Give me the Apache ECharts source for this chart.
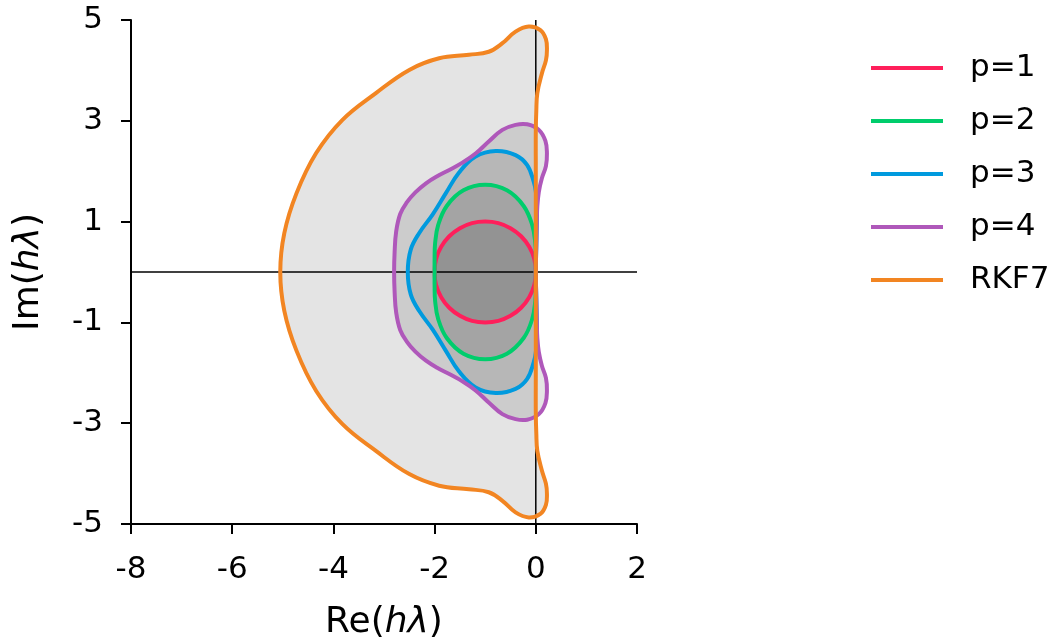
<!DOCTYPE html>
<html>
<head>
<meta charset="utf-8">
<script src="https://cdn.jsdelivr.net/npm/echarts@6/dist/echarts.min.js"></script>
<style>
  html, body { margin: 0; padding: 0; background: #fff; }
  #main { width: 1063px; height: 638px; }
</style>
</head>
<body>
<div id="main"></div>
<script>
// 稳定区域边界点 (Re, Im)
var xTicks = [-8, -6, -4, -2, 0, 2];
var yTicks = [-5, -3, -1, 1, 3, 5];
var names = ['p=1', 'p=2', 'p=3', 'p=4', 'RKF7'];
var colors = ['#FF1F5B', '#00CD6C', '#009ADE', '#AF58BA', '#F28522'];

var p1 = [
  [0, 0], [-0.03, 0.26], [-0.13, 0.5], [-0.29, 0.71], [-0.5, 0.87], [-0.74, 0.97], [-1, 1],
  [-1.26, 0.97], [-1.5, 0.87], [-1.71, 0.71], [-1.87, 0.5], [-1.97, 0.26], [-2, 0],
  [-1.97, -0.26], [-1.87, -0.5], [-1.71, -0.71], [-1.5, -0.87], [-1.26, -0.97], [-1, -1],
  [-0.74, -0.97], [-0.5, -0.87], [-0.29, -0.71], [-0.13, -0.5], [-0.03, -0.26]
];
var p2 = [
  [0, 0], [0, 0.27], [-0.01, 0.57], [-0.07, 0.93], [-0.24, 1.31], [-0.57, 1.62], [-1, 1.73],
  [-1.43, 1.62], [-1.76, 1.31], [-1.93, 0.93], [-1.99, 0.57], [-2, 0.27], [-2, 0],
  [-2, -0.27], [-1.99, -0.57], [-1.93, -0.93], [-1.76, -1.31], [-1.43, -1.62], [-1, -1.73],
  [-0.57, -1.62], [-0.24, -1.31], [-0.07, -0.93], [-0.01, -0.57], [0, -0.27]
];
var p3 = [
  [0, 0], [0.01, 0.5], [0.02, 1.0], [0.02, 1.35], [0, 1.6], [-0.04, 1.79], [-0.17, 2.12],
  [-0.4, 2.32], [-0.79, 2.4], [-1.19, 2.29], [-1.52, 1.97], [-1.78, 1.56], [-2.04, 1.14],
  [-2.3, 0.78], [-2.47, 0.45], [-2.53, 0],
  [-2.47, -0.45], [-2.3, -0.78], [-2.04, -1.14], [-1.78, -1.56], [-1.52, -1.97], [-1.19, -2.29],
  [-0.79, -2.4], [-0.4, -2.32], [-0.17, -2.12], [-0.04, -1.79], [0, -1.6], [0.02, -1.35],
  [0.02, -1.0], [0.01, -0.5]
];
var p4 = [
  [0, 0], [0.01, 0.5], [0.02, 1.0], [0.03, 1.3], [0.06, 1.59], [0.12, 1.86], [0.2, 2.1],
  [0.22, 2.35], [0.19, 2.6], [0.06, 2.82], [-0.17, 2.93], [-0.4, 2.92], [-0.66, 2.82],
  [-0.93, 2.59], [-1.19, 2.35], [-1.45, 2.17], [-1.7, 2.03], [-1.95, 1.9], [-2.17, 1.76],
  [-2.38, 1.58], [-2.55, 1.38], [-2.68, 1.15], [-2.76, 0.8], [-2.79, 0.4], [-2.8, 0],
  [-2.79, -0.4], [-2.76, -0.8], [-2.68, -1.15], [-2.55, -1.38], [-2.38, -1.58], [-2.17, -1.76],
  [-1.95, -1.9], [-1.7, -2.03], [-1.45, -2.17], [-1.19, -2.35], [-0.93, -2.59], [-0.66, -2.82],
  [-0.4, -2.92], [-0.17, -2.93], [0.06, -2.82], [0.19, -2.6], [0.22, -2.35], [0.2, -2.1],
  [0.12, -1.86], [0.06, -1.59], [0.03, -1.3], [0.02, -1.0], [0.01, -0.5]
];
var rkf7 = [
  [0, 0], [0, 1], [0, 2], [0, 2.8], [0.01, 3.2], [0.03, 3.55], [0.12, 3.94], [0.2, 4.2],
  [0.22, 4.4], [0.2, 4.62], [0.09, 4.8], [-0.14, 4.87], [-0.4, 4.77], [-0.66, 4.54],
  [-0.93, 4.37], [-1.32, 4.31], [-1.91, 4.24], [-2.5, 4.01], [-3.16, 3.55], [-3.82, 3.02],
  [-4.34, 2.36], [-4.73, 1.56], [-4.97, 0.77], [-5.05, 0],
  [-4.97, -0.77], [-4.73, -1.56], [-4.34, -2.36], [-3.82, -3.02], [-3.16, -3.55], [-2.5, -4.01],
  [-1.91, -4.24], [-1.32, -4.31], [-0.93, -4.37], [-0.66, -4.54], [-0.4, -4.77], [-0.14, -4.87],
  [0.09, -4.8], [0.2, -4.62], [0.22, -4.4], [0.2, -4.2], [0.12, -3.94], [0.03, -3.55],
  [0.01, -3.2], [0, -2.8], [0, -2], [0, -1]
];
var regions = [p1, p2, p3, p4, rkf7];

var font = 'DejaVu Sans';

// 闭合曲线：用 custom 系列画多边形
function polySeries(name, pts, style, z) {
  return {
    type: 'custom',
    name: name,
    z: z,
    silent: true,
    itemStyle: { color: style.stroke || '#999' },
    data: pts,
    renderItem: function (params, api) {
      if (params.dataIndex !== 0) return null;
      var points = pts.map(function (d) { return api.coord(d); });
      return {
        type: 'polygon',
        shape: { points: points, smooth: 0.4 },
        style: style
      };
    }
  };
}

var series = [];
// 灰色填充（半透明叠加）
regions.forEach(function (pts, i) {
  series.push(polySeries('fill' + i, pts, { fill: 'rgba(0,0,0,0.105)', stroke: null }, 1));
});
// 坐标轴零线
series.push({
  type: 'line', name: 'h0', z: 2, silent: true, symbol: 'none',
  lineStyle: { color: '#000', width: 1.5 },
  data: [[-8, 0], [2, 0]]
});
series.push({
  type: 'line', name: 'v0', z: 2, silent: true, symbol: 'none',
  lineStyle: { color: '#000', width: 1.5 },
  data: [[0, -5], [0, 5]]
});
// 边界曲线
regions.forEach(function (pts, i) {
  series.push(polySeries(names[i], pts, { fill: null, stroke: colors[i], lineWidth: 4 }, 3));
});

var myChart = echarts.init(document.getElementById('main'));
var option = {
  animation: false,
  grid: { left: 131, right: 426, top: 20, bottom: 114, containLabel: false, outerBoundsMode: 'none' },
  legend: {
    data: names,
    orient: 'vertical',
    left: 871,
    top: 51,
    padding: 0,
    icon: 'rect',
    itemWidth: 72,
    itemHeight: 4,
    itemGap: 19,
    textStyle: { fontFamily: font, fontSize: 31, color: '#000', lineHeight: 34, padding: [0, 0, 0, 22] }
  },
  xAxis: {
    type: 'value',
    min: -8, max: 2, interval: 2,
    name: 'Re({i|hλ})',
    nameLocation: 'middle',
    nameGap: 81,
    nameTextStyle: {
      fontFamily: font, fontSize: 36, color: '#000',
      rich: { i: { fontFamily: font, fontSize: 36, fontStyle: 'italic', color: '#000' } }
    },
    axisLine: { onZero: false, lineStyle: { color: '#000', width: 2 } },
    axisTick: { length: 10, lineStyle: { color: '#000', width: 2 } },
    axisLabel: {
      margin: 30, fontFamily: font, fontSize: 31, color: '#000',
      formatter: function (v) { return xTicks.indexOf(v) >= 0 ? String(v) : ''; }
    },
    splitLine: { show: false }
  },
  yAxis: {
    type: 'value',
    min: -5, max: 5, interval: 2,
    name: 'Im({i|hλ})',
    nameLocation: 'middle',
    nameGap: 84,
    nameRotate: 90,
    nameTextStyle: {
      fontFamily: font, fontSize: 36, color: '#000',
      rich: { i: { fontFamily: font, fontSize: 36, fontStyle: 'italic', color: '#000' } }
    },
    axisLine: { onZero: false, lineStyle: { color: '#000', width: 2 } },
    axisTick: { length: 10, lineStyle: { color: '#000', width: 2 } },
    axisLabel: {
      margin: 28, fontFamily: font, fontSize: 31, color: '#000',
      formatter: function (v) { return yTicks.indexOf(v) >= 0 ? String(v) : ''; }
    },
    splitLine: { show: false }
  },
  series: series
};
myChart.setOption(option);
</script>
</body>
</html>
